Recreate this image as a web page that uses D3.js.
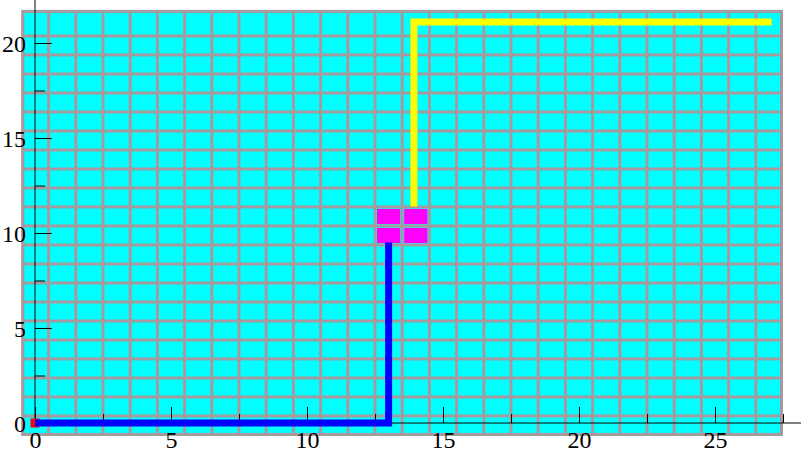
<!DOCTYPE html>
<html>
<head>
<meta charset="utf-8">
<script src="https://cdn.jsdelivr.net/npm/d3@7"></script>
<style>
  html, body { margin: 0; padding: 0; background: #ffffff; }
  svg { display: block; }
</style>
</head>
<body>
<svg id="chart" width="801" height="455"></svg>
<script>
// ---- data ----
const xMajorTicks = [0, 5, 10, 15, 20, 25];
const xMinorTicks = [2.5, 7.5, 12.5, 17.5, 22.5, 27.5];
const yMajorTicks = [0, 5, 10, 15, 20];
const yMinorTicks = [2.5, 7.5, 12.5, 17.5, 22.5];

// grid cell edges (data units)
const gridColEdges = d3.range(-0.5, 28, 1);                 // -0.5 .. 27.5
const gridRowEdges = [-0.68].concat(d3.range(0.37, 20.5, 1)).concat([21.74]);

// highlighted (magenta) cells: [column center, row index]
const goalCells = [[13, 10], [14, 10], [13, 11], [14, 11]];

// start marker
const startPoint = [0, 0];

// paths
const bluePathX = [0, 13, 13];
const bluePathY = [0, 0, 9.5];
const yellowPathX = [13.93, 13.93, 27.08];
const yellowPathY = [11.4, 21.1, 21.1];

// ---- drawing ----
const svg = d3.select("#chart");
const x = d3.scaleLinear().domain([0, 25]).range([35, 715]);
const y = d3.scaleLinear().domain([0, 20]).range([423, 43]);

const gray = "#a69a9e";
const gx0 = x(gridColEdges[0]), gx1 = x(gridColEdges[gridColEdges.length - 1]);
const gyTop = y(gridRowEdges[gridRowEdges.length - 1]), gyBot = y(gridRowEdges[0]);

const grid = svg.append("g");
grid.append("rect")
  .attr("x", gx0).attr("y", gyTop)
  .attr("width", gx1 - gx0).attr("height", gyBot - gyTop)
  .attr("fill", gray);

const cells = [];
for (let i = 0; i < gridColEdges.length - 1; i++) {
  for (let j = 0; j < gridRowEdges.length - 1; j++) {
    cells.push({ i, j });
  }
}
grid.selectAll("rect.cell").data(cells).join("rect")
  .attr("class", "cell")
  .attr("x", d => x(gridColEdges[d.i]) + 1.5)
  .attr("y", d => y(gridRowEdges[d.j + 1]) + 1.5)
  .attr("width", d => x(gridColEdges[d.i + 1]) - x(gridColEdges[d.i]) - 3)
  .attr("height", d => y(gridRowEdges[d.j]) - y(gridRowEdges[d.j + 1]) - 3)
  .attr("fill", "#00ffff");

// outer border
grid.append("rect")
  .attr("x", gx0 + 1.5).attr("y", gyTop + 1.5)
  .attr("width", gx1 - gx0 - 3).attr("height", gyBot - gyTop - 3)
  .attr("fill", "none").attr("stroke", gray).attr("stroke-width", 3);

// magenta cells
grid.selectAll("rect.goal").data(goalCells).join("rect")
  .attr("class", "goal")
  .attr("x", d => x(d[0] - 0.5) + 2)
  .attr("y", d => y(gridRowEdges[d[1] + 1]) + 2)
  .attr("width", d => x(d[0] + 0.5) - x(d[0] - 0.5) - 4)
  .attr("height", d => y(gridRowEdges[d[1]]) - y(gridRowEdges[d[1] + 1]) - 4)
  .attr("fill", "#ff00ff");

// ---- axes ----
const font = "'Liberation Serif', 'Times New Roman', serif";
const axes = svg.append("g");

// axis lines
axes.append("line")
  .attr("x1", x(0)).attr("x2", 801).attr("y1", y(0)).attr("y2", y(0))
  .attr("stroke", "#000").attr("stroke-width", 1);
axes.append("line")
  .attr("x1", x(0)).attr("x2", x(0)).attr("y1", 0).attr("y2", y(0))
  .attr("stroke", "#000").attr("stroke-width", 1);

const xAxis = axes.append("g").attr("transform", `translate(0,${y(0)})`)
  .call(d3.axisBottom(x).tickValues(xMajorTicks).tickSizeInner(-16).tickSizeOuter(0).tickPadding(8).tickFormat(d3.format("d")));
const xAxisMinor = axes.append("g").attr("transform", `translate(0,${y(0)})`)
  .call(d3.axisBottom(x).tickValues(xMinorTicks).tickSizeInner(-9).tickSizeOuter(0).tickFormat(""));
const yAxis = axes.append("g").attr("transform", `translate(${x(0)},0)`)
  .call(d3.axisLeft(y).tickValues(yMajorTicks).tickSizeInner(-17).tickSizeOuter(0).tickPadding(9).tickFormat(d3.format("d")));
const yAxisMinor = axes.append("g").attr("transform", `translate(${x(0)},0)`)
  .call(d3.axisLeft(y).tickValues(yMinorTicks).tickSizeInner(-10).tickSizeOuter(0).tickFormat(""));

axes.selectAll(".domain").remove();
axes.selectAll(".tick line").attr("stroke", "#000");
axes.selectAll(".tick text")
  .attr("font-family", font).attr("font-size", 24).attr("fill", "#000");
yAxis.selectAll(".tick text").attr("dy", "0.35em");

// ---- start marker and paths ----
svg.append("rect")
  .attr("x", x(startPoint[0]) - 4.5).attr("y", y(startPoint[1]) - 4.5)
  .attr("width", 9).attr("height", 9)
  .attr("fill", "#ff0000");

const line = d3.line().x(d => x(d[0])).y(d => y(d[1]));
svg.append("path")
  .attr("d", line(bluePathX.map((v, i) => [v, bluePathY[i]])))
  .attr("fill", "none").attr("stroke", "#0000ff").attr("stroke-width", 7)
  .attr("stroke-linejoin", "miter").attr("stroke-linecap", "butt");
svg.append("path")
  .attr("d", line(yellowPathX.map((v, i) => [v, yellowPathY[i]])))
  .attr("fill", "none").attr("stroke", "#ffff00").attr("stroke-width", 7)
  .attr("stroke-linejoin", "miter").attr("stroke-linecap", "butt");
</script>
</body>
</html>
